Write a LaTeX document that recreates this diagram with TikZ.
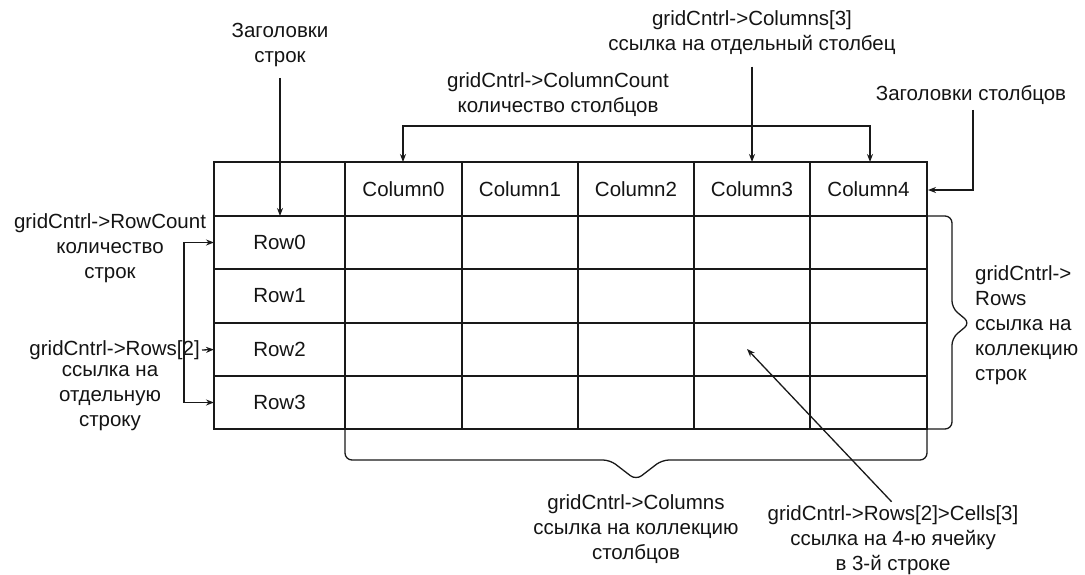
\documentclass[tikz,border=0pt]{standalone}
\usepackage{fontspec}
\setmainfont{Liberation Sans}
\usetikzlibrary{arrows.meta}
\begin{document}
\begin{tikzpicture}[x=1pt,y=-1pt,
  lbl/.style={font=\fontsize{20.5}{25}\selectfont, align=center, inner sep=2pt, text=black!92},
  cell/.style={font=\fontsize{20.5}{25}\selectfont, inner sep=0pt, text=black!92},
  ln/.style={line width=1.3pt, draw=black!90},
  arr/.style={ln, -{Stealth[length=8pt,width=6pt]}},
  barr/.style={ln, {Stealth[length=8pt,width=6pt]}-{Stealth[length=8pt,width=6pt]}},
  bracepath/.style={ln, rounded corners=7pt}]
\useasboundingbox (0,0) rectangle (1085,574);

% table grid
\draw[ln] (214,162) rectangle (927,429);
\foreach \yy in {216,269,323,376} \draw[ln] (214,\yy) -- (927,\yy);
\foreach \xx in {345,462,578,694,810} \draw[ln] (\xx,162) -- (\xx,429);

% header cells
\node[cell] (c0) at (403.5,189) {Column0};
\node[cell] (c1) at (520,189) {Column1};
\node[cell] (c2) at (636,189) {Column2};
\node[cell] (c3) at (752,189) {Column3};
\node[cell] (c4) at (868.5,189) {Column4};
\node[cell] (r0) at (279.5,242.5) {Row0};
\node[cell] (r1) at (279.5,296) {Row1};
\node[cell] (r2) at (279.5,349.5) {Row2};
\node[cell] (r3) at (279.5,402.5) {Row3};

% anchor points on the table
\coordinate (tc0) at (403,162);
\coordinate (tc3) at (752,162);
\coordinate (tc4) at (870,162);
\coordinate (tr) at (928,190);
\coordinate (rh) at (280,216);
\coordinate (lr0) at (214,242.5);
\coordinate (lr2) at (214,349.5);
\coordinate (lr3) at (214,402.5);
\coordinate (cell23) at (747,349);
\coordinate (ccl) at (403,126);
\coordinate (ccr) at (870,126);
\coordinate (rcl0) at (184,242.5);
\coordinate (rcl3) at (184,402.5);

% labels
\node[lbl] (rowhdr) at (280,45) {Заголовки\\строк};
\node[lbl] (colcount) at (558,94.5) {gridCntrl->ColumnCount\\количество столбцов};
\node[lbl] (col3) at (752,32.5) {gridCntrl->Columns[3]\\ссылка на отдельный столбец};
\node[lbl] (colhdr) at (971,95) {Заголовки столбцов};
\node[lbl] (rowcount) at (110,248) {gridCntrl->RowCount\\количество\\строк};
\node[lbl, anchor=east] (rows2) at (202,350) {gridCntrl->Rows[2]};
\node[lbl] (rows2b) at (110,398) {ссылка на\\отдельную\\строку};
\node[lbl, align=left, anchor=west] (rowsall) at (973,325) {gridCntrl->\\Rows\\ссылка на\\коллекцию\\строк};
\node[lbl] (colsall) at (636,529) {gridCntrl->Columns\\ссылка на коллекцию\\столбцов};
\node[lbl] (cells) at (893,540) {gridCntrl->Rows[2]>Cells[3]\\ссылка на 4-ю ячейку\\в 3-й строке};

% connectors
\draw[arr, shorten <=9pt] (rowhdr.south) -- (rh);
\draw[barr] (tc0) -- (ccl) -- (ccr) -- (tc4);
\draw[arr, shorten <=10pt] (col3.south) -- (tc3);
\draw[arr, shorten <=3pt] (colhdr.south) ++(2,0) -- (973,190) -- (tr);
\draw[barr] (lr0) -- (rcl0) -- (rcl3) -- (lr3);
\draw[arr] (rows2.east) -- (lr2);
\draw[arr, shorten <=2pt] (cells.north) -- (cell23);

% braces
\draw[bracepath] (928,216) -- (952,216) -- (952,308) -- (970,323) -- (952,338) -- (952,429) -- (928,429);
\draw[bracepath] (345,430) -- (345,460) -- (610,460) -- (636,480) -- (662,460) -- (927,460) -- (927,430);
\end{tikzpicture}
\end{document}
